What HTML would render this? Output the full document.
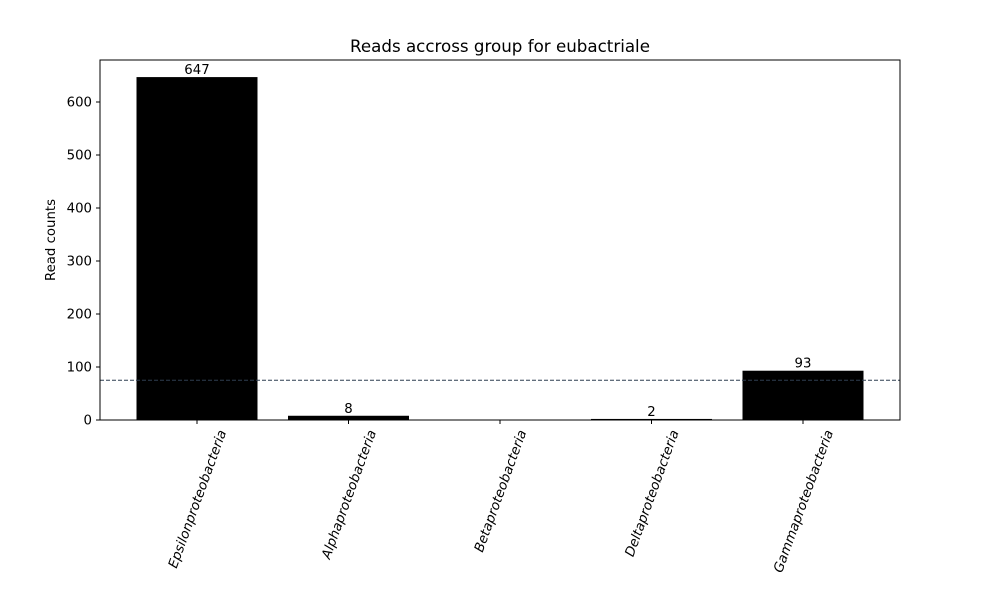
<!DOCTYPE html>
<html><head><meta charset="utf-8"><style>body{margin:0;background:#fff}svg{font-family:"DejaVu Sans","Liberation Sans",sans-serif}</style></head>
<body>
<svg id="chart" width="1000" height="600" xmlns="http://www.w3.org/2000/svg">
<rect width="1000" height="600" fill="#fff"/>
<text x="500" y="52" text-anchor="middle" font-size="16.7">Reads accross group for eubactriale</text>
<text transform="translate(55,240) rotate(-90)" text-anchor="middle" font-size="13.3">Read counts</text>
<g id="plot"></g>
<rect x="100" y="60" width="800" height="360" fill="none" stroke="#000" stroke-width="1"/>
</svg>
<script>
const categories = ["Epsilonproteobacteria","Alphaproteobacteria","Betaproteobacteria","Deltaproteobacteria","Gammaproteobacteria"];
const values = [647, 8, 0, 2, 93];
const yTicks = [0,100,200,300,400,500,600];
const threshold = 75;

const NS = "http://www.w3.org/2000/svg";
const g = document.getElementById('plot');
const y0 = 420, pxPerUnit = 318/600;
const yScale = v => y0 - v*pxPerUnit;
const step = 151.5, firstCenter = 197, barW = 121;
const xScale = i => firstCenter + i*step;
function mk(tag, attrs){const e=document.createElementNS(NS,tag);for(const k in attrs)e.setAttribute(k,attrs[k]);g.appendChild(e);return e;}

yTicks.forEach(t=>{
  const y=yScale(t);
  const l=mk('line',{x1:96,x2:100,y1:y,y2:y,stroke:'#000'});
  
  
  const tx=mk('text',{x:92,y:y+4.5,'text-anchor':'end','font-size':13.3});
  tx.textContent=t;
  
  
});

const ang = 70*Math.PI/180;
categories.forEach((c,i)=>{
  const cx=xScale(i), v=values[i];
  const top=yScale(v);
  const r=mk('rect',{x:cx-barW/2,y:top,width:barW,height:y0-top,fill:'#000'});
  
  
  if(v>0){
    const vl=mk('text',{x:cx,y:top-3,'text-anchor':'middle','font-size':13.3});
    vl.textContent=v;
    
    
  }
  const tk=mk('line',{x1:cx,x2:cx,y1:420,y2:424,stroke:'#000'});
  
  
  const xl=mk('text',{'text-anchor':'middle','font-size':13.3,'font-style':'italic'});
  xl.textContent=c;
  
  
  const L=xl.getComputedTextLength(), h=13.3;
  const halfV=L/2*Math.sin(ang)+h/2*Math.cos(ang);
  const cy=428+halfV;
  xl.setAttribute('transform',`translate(${cx},${cy}) rotate(-70) translate(0,${h*0.36})`);
});

const th=mk('line',{x1:100,x2:900,y1:yScale(threshold),y2:yScale(threshold),stroke:'#2f3e50','stroke-width':1,'stroke-dasharray':'4,2'});


</script>
</body></html>
